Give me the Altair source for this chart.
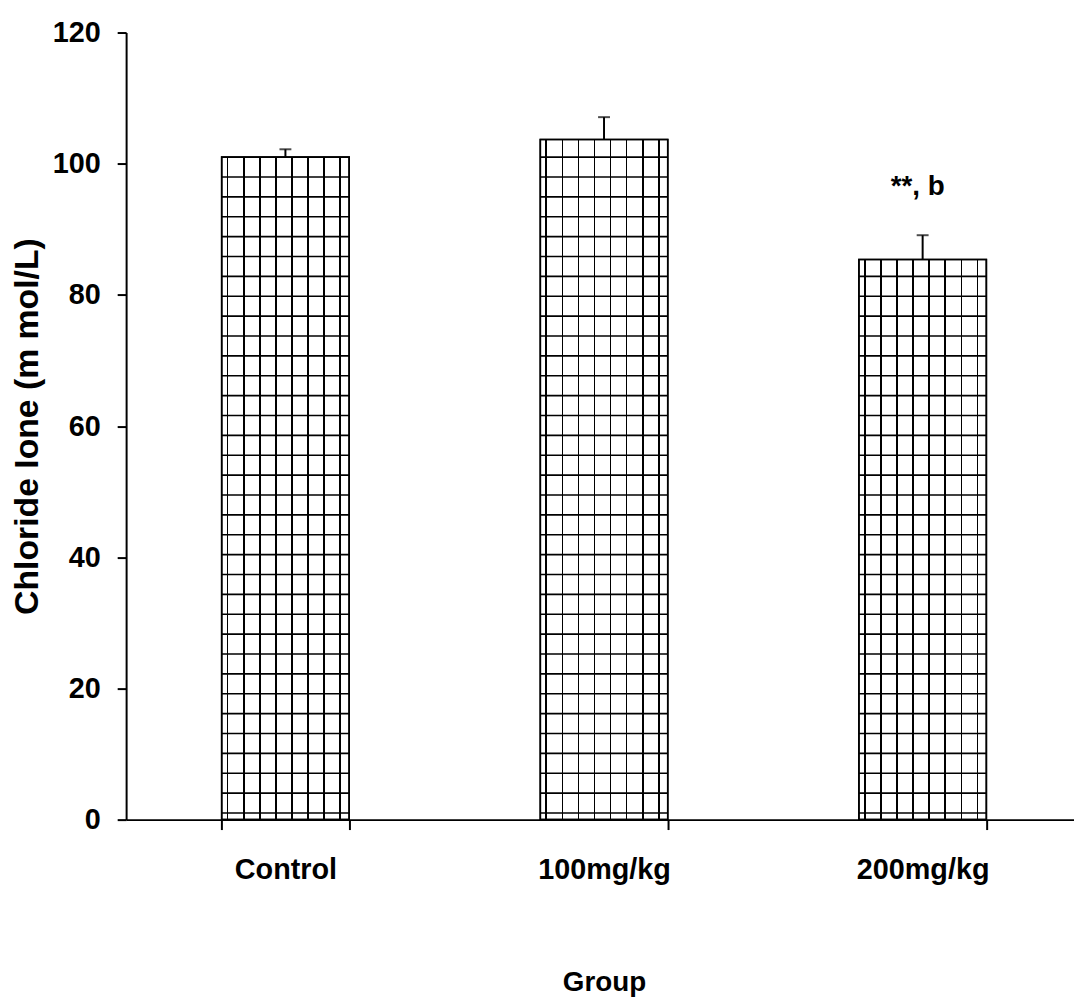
import altair as alt
import pandas as pd

# ---- data ----
groups = ["Control", "100mg/kg", "200mg/kg"]
means = [101.0, 103.7, 85.4]
errors = [1.2, 3.4, 3.7]
annotations = ["", "", "**, b"]
y_ticks = [0, 20, 40, 60, 80, 100, 120]

# ---- hatch (grid texture) style ----
HATCH_ANCHOR = 101.0   # a horizontal texture line sits here (data units)
HATCH_STEP = 3.03      # spacing of horizontal texture lines (data units)
HATCH_HALF = 0.12      # half thickness of a horizontal texture line
BAR_PX = 128.4         # bar width in px (for vertical stripe gradient)
V_FIRST, V_STEP, V_COUNT, V_HALF = 6.0, 16.2, 8, 0.8

df = pd.DataFrame({
    "group": groups,
    "mean": means,
    "top": [m + e for m, e in zip(means, errors)],
    "note": annotations,
})

rows = []
for g, m in zip(groups, means):
    for k in range(-3, 60):
        y = HATCH_ANCHOR - HATCH_STEP * k
        if 0.3 < y < m - 0.4:
            rows.append({"group": g, "y0": y - HATCH_HALF, "y1": y + HATCH_HALF})
hatch = pd.DataFrame(rows)

stops = [{"offset": 0, "color": "white"}]
for k in range(V_COUNT):
    c = V_FIRST + V_STEP * k
    a = (c - V_HALF) / BAR_PX
    b = (c + V_HALF) / BAR_PX
    stops += [
        {"offset": a, "color": "white"},
        {"offset": a, "color": "black"},
        {"offset": b, "color": "black"},
        {"offset": b, "color": "white"},
    ]
stops.append({"offset": 1, "color": "white"})
vgrad = {"gradient": "linear", "x1": 0, "y1": 0, "x2": 1, "y2": 0, "stops": stops}

FONT = "Liberation Sans"

xscale = alt.Scale(domain=groups, range=[0, 963], paddingInner=0.6, paddingOuter=0.3)
yscale = alt.Scale(domain=[0, 120], nice=False)

x_enc = alt.X(
    "group:N", scale=xscale, sort=groups, title="Group",
    axis=alt.Axis(labelAngle=0, tickBand="extent", tickSize=10, labelPadding=26,
                  titlePadding=85, labelFontSize=29, titleFontSize=28),
)
y_enc = alt.Y(
    "mean:Q", scale=yscale, title="Chloride Ione (m mol/L)",
    axis=alt.Axis(values=y_ticks, grid=False, tickSize=9, labelPadding=17,
                  titlePadding=8, labelFontSize=29, titleFontSize=34),
)

bars = alt.Chart(df).mark_bar(fill=vgrad, stroke="black", strokeWidth=1.6).encode(
    x=x_enc, y=y_enc
)

hlines = alt.Chart(hatch).mark_bar(color="black").encode(
    x=alt.X("group:N", scale=xscale, sort=groups),
    y=alt.Y("y0:Q", scale=yscale),
    y2="y1:Q",
)

outline = alt.Chart(df).mark_bar(fillOpacity=0, stroke="black", strokeWidth=1.6).encode(
    x=alt.X("group:N", scale=xscale, sort=groups),
    y=alt.Y("mean:Q", scale=yscale),
)

err = alt.Chart(df).mark_rule(color="black", strokeWidth=2).encode(
    x=alt.X("group:N", scale=xscale, sort=groups),
    y=alt.Y("mean:Q", scale=yscale),
    y2="top:Q",
)

caps = alt.Chart(df).mark_tick(color="black", size=12, thickness=2).encode(
    x=alt.X("group:N", scale=xscale, sort=groups),
    y=alt.Y("top:Q", scale=yscale),
)

notes = alt.Chart(df).mark_text(
    font=FONT, fontWeight="bold", fontSize=28, dy=-41, dx=-5, baseline="alphabetic"
).encode(
    x=alt.X("group:N", scale=xscale, sort=groups),
    y=alt.Y("top:Q", scale=yscale),
    text="note:N",
)

chart = (
    alt.layer(bars, hlines, outline, err, caps, notes)
    .properties(
        width=955,
        height=793,
        autosize=alt.AutoSizeParams(type="none"),
        padding={"left": 119, "top": 21, "right": 0, "bottom": 178},
    )
    .configure_view(strokeWidth=0)
    .configure_axis(
        labelFont=FONT, titleFont=FONT, labelFontWeight="bold", titleFontWeight="bold",
        labelColor="black", titleColor="black", domainColor="black", tickColor="black",
        domainWidth=2, tickWidth=2,
    )
)

chart.save("out.html", embed_options={"renderer": "svg", "actions": False})
